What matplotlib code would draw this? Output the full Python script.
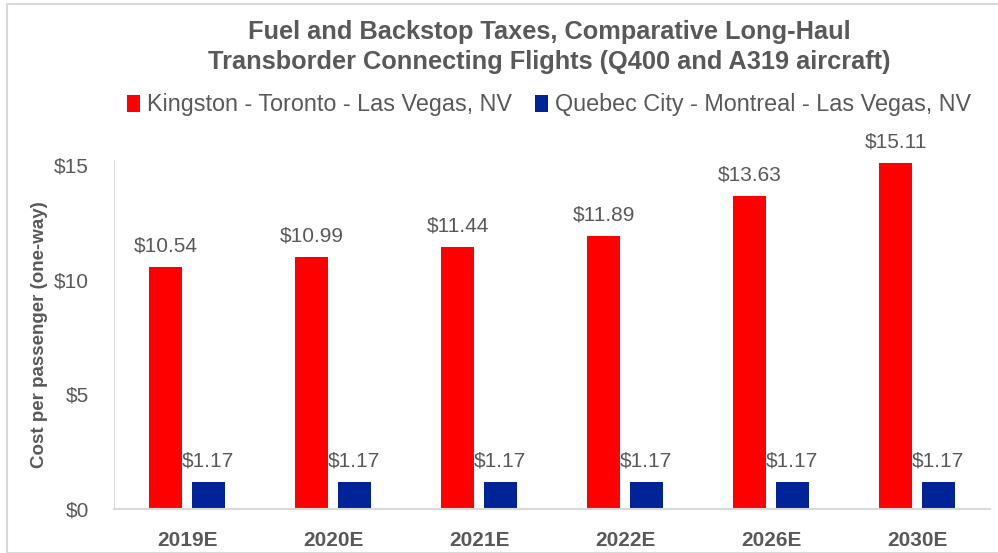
import matplotlib
matplotlib.use("Agg")
import matplotlib.pyplot as plt
import numpy as np
from matplotlib.patches import Rectangle

categories = ["2019E", "2020E", "2021E", "2022E", "2026E", "2030E"]
kingston = [10.54, 10.99, 11.44, 11.89, 13.63, 15.11]
quebec = [1.17, 1.17, 1.17, 1.17, 1.17, 1.17]
series_names = ["Kingston - Toronto - Las Vegas, NV", "Quebec City - Montreal - Las Vegas, NV"]
yticks = [0, 5, 10, 15]

plt.rcParams['font.family'] = ['Liberation Sans', 'DejaVu Sans']
gray = "#595959"
red = "#FF0000"
blue = "#002398"

fig = plt.figure(figsize=(9.98, 5.53), dpi=100)
ax = fig.add_axes([114/998, 1-509/553, (990-114)/998, (509-160)/553])

x = np.arange(len(categories))
w = 0.226
off = 0.144
ax.bar(x - off, kingston, w, color=red, label=series_names[0])
ax.bar(x + off, quebec, w, color=blue, label=series_names[1])

for xi, v in zip(x, kingston):
    ax.text(xi - off, v + 0.5, f"${v:.2f}", ha="center", va="bottom", fontsize=15, color=gray)
for xi, v in zip(x, quebec):
    ax.text(xi + off, v + 0.5, f"${v:.2f}", ha="center", va="bottom", fontsize=15, color=gray)

ax.set_xlim(-0.5, len(categories) - 0.5)
ax.set_ylim(0, 15.22)
ax.set_yticks(yticks)
ax.set_yticklabels([f"${t}" for t in yticks], fontsize=15, color=gray)
ax.set_xticks(x)
ax.set_xticklabels(categories, fontsize=15, color=gray, fontweight="bold")
ax.tick_params(axis="x", length=0, pad=16)
ax.tick_params(axis="y", length=0, pad=18)
for s in ["top", "right"]:
    ax.spines[s].set_visible(False)
ax.spines["left"].set_color("#D9D9D9")
ax.spines["bottom"].set_color("#D9D9D9")
ax.spines["bottom"].set_linewidth(1.5)
ax.set_ylabel("Cost per passenger (one-way)", fontsize=13.5, color=gray, fontweight="bold", labelpad=4)

fig.text(549/998, 1-47/553, "Fuel and Backstop Taxes, Comparative Long-Haul\nTransborder Connecting Flights (Q400 and A319 aircraft)",
         ha="center", va="center", fontsize=18.3, fontweight="bold", color=gray, linespacing=1.3)

leg = fig.legend(loc="center", bbox_to_anchor=(549/998, 1-105/553), ncol=2, frameon=False,
                 handlelength=0.55, handleheight=0.7, handletextpad=0.3, columnspacing=1.0,
                 prop={'size': 16.8})
for t in leg.get_texts():
    t.set_color(gray)

fig.patches.append(Rectangle((7/998, 0), 1, 1 - 4/553, transform=fig.transFigure,
                             fill=False, edgecolor="#D9D9D9", linewidth=1.5))

fig.savefig("out.png", dpi=100)
